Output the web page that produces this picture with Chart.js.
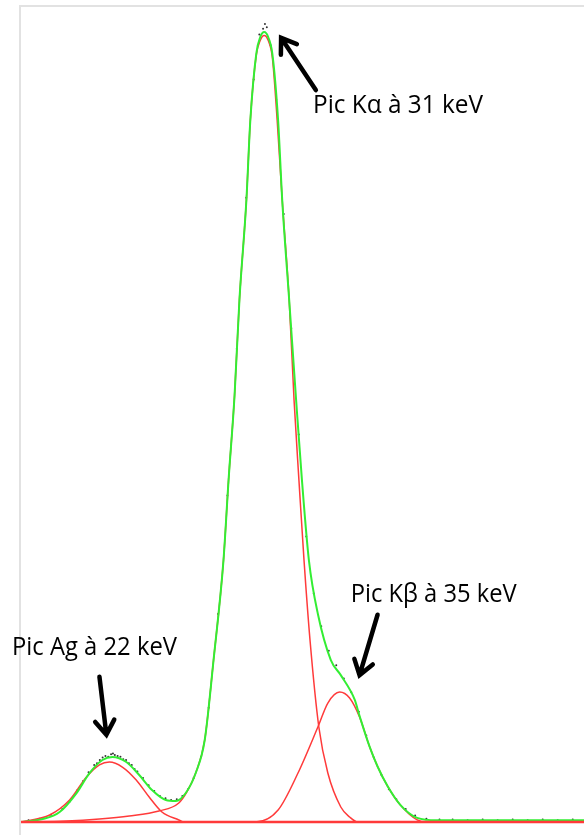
<!DOCTYPE html>
<html>
<head>
<meta charset="utf-8">
<script src="https://cdn.jsdelivr.net/npm/chart.js@4/dist/chart.umd.min.js"></script>
<style>
  body { margin: 0; background: #fff; }
  #wrap { position: relative; width: 588px; height: 835px; }
</style>
</head>
<body>
<div id="wrap"><canvas id="spectre"></canvas></div>
<script>
// energie (keV) et comptages
const totalE = [18.0, 19.16, 20.06, 20.96, 21.65, 22.34, 22.87, 23.61, 24.30, 24.98, 25.72, 26.25, 26.78, 27.31, 27.79, 28.26, 28.79, 29.06, 29.38, 29.64, 30.01, 30.22, 30.54, 30.75, 30.96, 31.17, 31.39, 31.70, 31.92, 32.29, 32.66, 32.97, 33.34, 33.82, 34.51, 35.04, 35.78, 36.04, 36.58, 37.0, 37.53, 38.21, 39.11, 40.16, 48.0];
const totalV = [0, 0.37, 1.23, 3.55, 6.0, 7.6, 7.97, 7.35, 5.76, 3.92, 2.70, 2.57, 3.55, 6.0, 10.05, 19.85, 32.1, 41.9, 52.3, 64.0, 76.2, 86.0, 94.2, 96.2, 96.8, 96.2, 94.2, 86.0, 76.2, 64.0, 51.7, 41.9, 32.1, 25.5, 19.85, 18.0, 15.0, 13.0, 9.2, 6.8, 4.4, 2.1, 0.5, 0.2, 0.2];

const kaE = [18.0, 20.43, 22.18, 23.77, 25.35, 26.41, 26.84, 27.31, 27.79, 28.26, 28.79, 29.06, 29.38, 29.64, 30.01, 30.22, 30.54, 30.75, 30.96, 31.17, 31.39, 31.65, 31.92, 32.29, 32.55, 32.81, 33.08, 33.40, 33.87, 34.35, 35.04, 35.51, 35.94, 48.0];
const kaV = [0, 0.12, 0.37, 0.74, 1.35, 2.33, 3.68, 6.0, 10.05, 19.85, 32.1, 41.9, 52.3, 64.0, 76.2, 86.0, 94.0, 95.8, 96.4, 95.8, 93.75, 86.0, 76.2, 64.0, 51.7, 41.9, 32.1, 22.3, 11.64, 6.0, 1.84, 0.61, 0, 0];

const agE = [18.0, 19.53, 20.59, 21.49, 22.18, 22.71, 23.40, 24.14, 24.83, 25.51, 26.41, 26.68, 48.0];
const agV = [0, 0.86, 2.70, 5.51, 6.99, 7.35, 6.74, 5.15, 3.06, 1.23, 0.25, 0, 0];

const kbE = [18.0, 30.49, 31.70, 32.76, 33.82, 34.35, 34.98, 35.51, 36.04, 36.58, 37.0, 37.53, 38.21, 39.11, 39.64, 48.0];
const kbV = [0, 0, 1.47, 6.0, 11.64, 14.58, 15.93, 15.2, 12.87, 9.2, 6.8, 4.4, 2.1, 0.25, 0, 0];

// points de mesure
const mesE = [18.4, 19.0, 19.6, 20.2, 20.6, 21.0, 21.3, 21.6, 21.9, 22.05, 22.2, 22.35, 22.5, 22.65, 22.8, 22.9, 23.0, 23.15, 23.3, 23.45, 23.6, 23.75, 23.9, 24.05, 24.2, 24.5, 24.8, 25.1, 25.4, 25.7, 26.0, 26.3, 26.6, 26.9, 27.2, 27.6, 28.0, 28.5, 29.0, 29.5, 30.0, 30.4, 30.7, 30.9, 31.0, 31.1, 31.3, 31.6, 32.0, 32.4, 32.8, 33.2, 33.6, 34.0, 34.4, 34.8, 35.2, 35.6, 36.0, 36.4, 36.8, 37.2, 37.6, 38.0, 38.5, 39.0, 39.6, 40.3, 41.0, 41.8, 42.6, 43.4, 44.2, 45.0, 45.8, 46.6, 47.4];
const mesV = [0.2, 0.4, 0.9, 1.6, 2.5, 3.9, 5.0, 6.1, 7.0, 7.2, 7.6, 7.9, 8.1, 8.0, 8.3, 8.4, 8.2, 8.1, 8.0, 7.7, 7.6, 7.2, 7.0, 6.5, 6.2, 5.4, 4.5, 3.8, 3.2, 2.9, 2.7, 2.8, 3.2, 4.0, 5.4, 8.0, 14.0, 25.5, 40.0, 58.0, 76.5, 91.0, 96.5, 97.2, 97.8, 97.4, 95.2, 88.5, 74.5, 60.5, 47.5, 35.0, 28.0, 24.0, 21.0, 19.2, 17.6, 15.9, 13.5, 10.6, 7.9, 5.8, 4.0, 2.8, 1.6, 0.8, 0.4, 0.3, 0.3, 0.2, 0.3, 0.2, 0.3, 0.2, 0.3, 0.2, 0.3];

// étiquettes : texte, position du texte, flèche (queue -> pointe)
const annotations = [
  { text: 'Pic K\u03B1 \u00E0 31 keV', at: [33.56, 86.9], w: 170, tail: [33.71, 89.7], tip: [31.86, 96.1] },
  { text: 'Pic K\u03B2 \u00E0 35 keV', at: [35.57, 27.0], w: 166, tail: [37.0, 25.4], tip: [36.04, 18.0] },
  { text: 'Pic Ag \u00E0 22 keV', at: [17.52, 20.5], w: 165, tail: [22.18, 17.8], tip: [22.55, 10.7] }
];

function pts(xs, ys) { return xs.map((x, i) => ({x: x, y: ys[i]})); }

const GREEN = '#33ee33';
const RED = '#ff3a3a';

const frame = {
  id: 'frame',
  beforeDatasetsDraw(chart) {
    const {ctx, chartArea: a} = chart;
    ctx.save();
    ctx.strokeStyle = '#e2e2e2';
    ctx.lineWidth = 2;
    ctx.beginPath();
    ctx.moveTo(a.left - 1, chart.height);
    ctx.lineTo(a.left - 1, a.top);
    ctx.lineTo(a.right, a.top);
    ctx.stroke();
    ctx.restore();
  },
  afterDatasetsDraw(chart) {
    const {ctx, chartArea: a} = chart;
    const y0 = chart.scales.y.getPixelForValue(0);
    ctx.save();
    ctx.strokeStyle = RED;
    ctx.lineWidth = 2.5;
    ctx.beginPath();
    ctx.moveTo(a.left, y0);
    ctx.lineTo(a.right, y0);
    ctx.stroke();
    ctx.restore();
  }
};

const labels = {
  id: 'labels',
  afterDraw(chart) {
    const ctx = chart.ctx;
    const sx = chart.scales.x, sy = chart.scales.y;
    const px = p => [sx.getPixelForValue(p[0]), sy.getPixelForValue(p[1])];
    ctx.save();
    annotations.forEach(an => {
      // flèche
      const [x1, y1] = px(an.tail), [x2, y2] = px(an.tip);
      const ang = Math.atan2(y1 - y2, x1 - x2);
      ctx.strokeStyle = '#000';
      ctx.lineWidth = 4.5;
      ctx.lineCap = 'round';
      ctx.beginPath();
      ctx.moveTo(x1, y1);
      ctx.lineTo(x2, y2);
      ctx.moveTo(x2 + 17 * Math.cos(ang - 0.6), y2 + 17 * Math.sin(ang - 0.6));
      ctx.lineTo(x2, y2);
      ctx.lineTo(x2 + 17 * Math.cos(ang + 0.6), y2 + 17 * Math.sin(ang + 0.6));
      ctx.stroke();
      // texte
      const [tx, ty] = px(an.at);
      ctx.font = '25px "Open Sans"';
      ctx.fillStyle = '#000';
      ctx.textBaseline = 'alphabetic';
      const m = ctx.measureText(an.text).width;
      ctx.save();
      ctx.translate(tx, ty);
      ctx.scale(an.w / m, 1);
      ctx.fillText(an.text, 0, 0);
      ctx.restore();
    });
    ctx.restore();
  }
};

new Chart(document.getElementById('spectre'), {
  type: 'line',
  data: {
    datasets: [
      { label: 'Ajustement', data: pts(totalE, totalV), borderColor: GREEN, borderWidth: 2, pointRadius: 0, cubicInterpolationMode: 'monotone' },
      { label: 'K\u03B1', data: pts(kaE, kaV), borderColor: RED, borderWidth: 1.5, pointRadius: 0, cubicInterpolationMode: 'monotone' },
      { label: 'K\u03B2', data: pts(kbE, kbV), borderColor: RED, borderWidth: 1.5, pointRadius: 0, cubicInterpolationMode: 'monotone' },
      { label: 'Ag', data: pts(agE, agV), borderColor: RED, borderWidth: 1.5, pointRadius: 0, cubicInterpolationMode: 'monotone' },
      { label: 'Mesures', data: pts(mesE, mesV), showLine: false, pointRadius: 1, pointBorderWidth: 0, pointBackgroundColor: '#333' }
    ]
  },
  options: {
    responsive: true,
    maintainAspectRatio: false,
    animation: false,
    layout: { padding: { left: 21, top: 6, right: 0, bottom: 13 } },
    scales: {
      x: { type: 'linear', min: 18, max: 48, display: false },
      y: { min: 0, max: 100, display: false }
    },
    plugins: { legend: { display: false }, tooltip: { enabled: false } }
  },
  plugins: [frame, labels]
});
</script>
</body>
</html>
